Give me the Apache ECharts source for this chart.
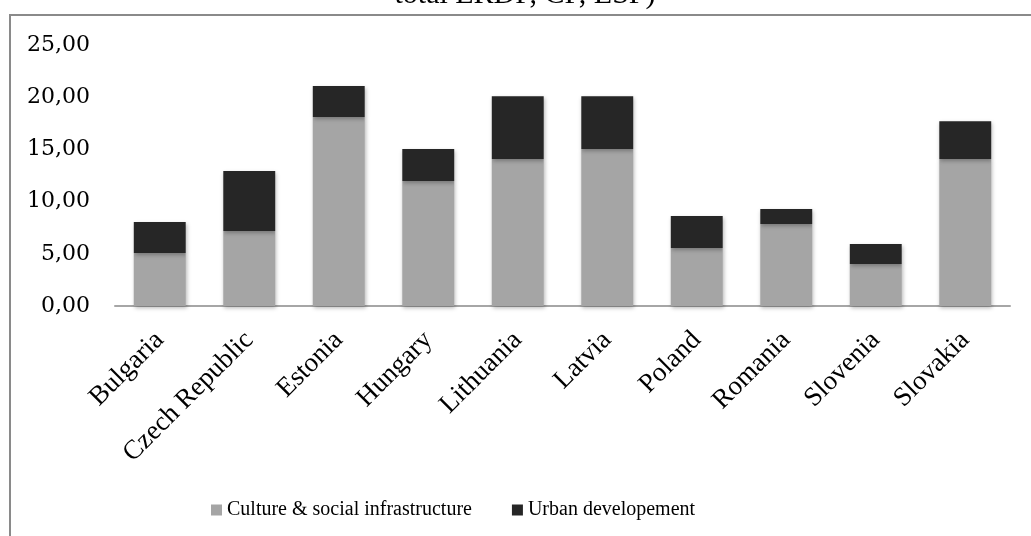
<!DOCTYPE html>
<html>
<head>
<meta charset="utf-8">
<style>
  html, body { margin: 0; padding: 0; background: #ffffff; }
  #chart { width: 1031px; height: 536px; }
</style>
<script src="https://cdn.jsdelivr.net/npm/echarts@6/dist/echarts.min.js"></script>
</head>
<body>
<div id="chart"></div>
<script>
// Share of funds by country (% of total ERDF, CF, ESF)
const countries = ['Bulgaria', 'Czech Republic', 'Estonia', 'Hungary', 'Lithuania',
                   'Latvia', 'Poland', 'Romania', 'Slovenia', 'Slovakia'];
const culture = [5.08, 7.18, 18.1, 11.97, 14.08, 15.04, 5.56, 7.85, 4.02, 14.08];
const urban   = [2.97, 5.75, 2.97, 3.07, 6.02, 5.06, 3.06, 1.44, 1.92, 3.62];
const seriesNames = ['Culture & social infrastructure', 'Urban developement'];
const yTicks = { min: 0, max: 25, interval: 5 };

const chart = echarts.init(document.getElementById('chart'));

const barShadow = {
  shadowColor: 'rgba(0,0,0,0.28)',
  shadowBlur: 4,
  shadowOffsetX: 1,
  shadowOffsetY: 2
};

chart.setOption({
  animation: false,
  backgroundColor: '#ffffff',
  graphic: [
    {
      type: 'rect',
      shape: { x: 10, y: 15, width: 1060, height: 600 },
      style: { fill: 'none', stroke: '#8a8a8a', lineWidth: 2 },
      z: 0
    },
    {
      type: 'text',
      x: 525,
      y: 10,
      style: {
        text: 'total ERDF, CF, ESF)',
        font: '30px "Liberation Serif"',
        fill: '#000000',
        align: 'center',
        verticalAlign: 'bottom'
      }
    }
  ],
  grid: { left: 115, right: 21, top: 45, bottom: 230, containLabel: false },
  legend: {
    data: seriesNames,
    left: 206,
    top: 495,
    icon: 'rect',
    itemWidth: 11,
    itemHeight: 11,
    itemGap: 40,
    textStyle: { fontFamily: 'Liberation Serif', fontSize: 20, color: '#000000' }
  },
  xAxis: {
    type: 'category',
    data: countries,
    axisLine: { lineStyle: { color: '#a6a6a6', width: 2 } },
    axisTick: { show: false },
    axisLabel: {
      rotate: 45,
      margin: 30,
      interval: 0,
      fontFamily: 'Liberation Serif',
      fontSize: 27,
      color: '#000000'
    }
  },
  yAxis: {
    type: 'value',
    min: yTicks.min,
    max: yTicks.max,
    interval: yTicks.interval,
    axisLine: { show: false },
    axisTick: { show: false },
    splitLine: { show: false },
    axisLabel: {
      margin: 25,
      fontFamily: 'DejaVu Serif',
      fontSize: 22,
      color: '#000000',
      formatter: v => v.toFixed(2).replace('.', ',')
    }
  },
  series: [
    {
      name: seriesNames[0],
      type: 'bar',
      stack: 'total',
      data: culture,
      barWidth: '58%',
      itemStyle: Object.assign({ color: '#a5a5a5' }, barShadow)
    },
    {
      name: seriesNames[1],
      type: 'bar',
      stack: 'total',
      data: urban,
      barWidth: '58%',
      itemStyle: Object.assign({ color: '#262626' }, barShadow)
    }
  ]
});
</script>
</body>
</html>
